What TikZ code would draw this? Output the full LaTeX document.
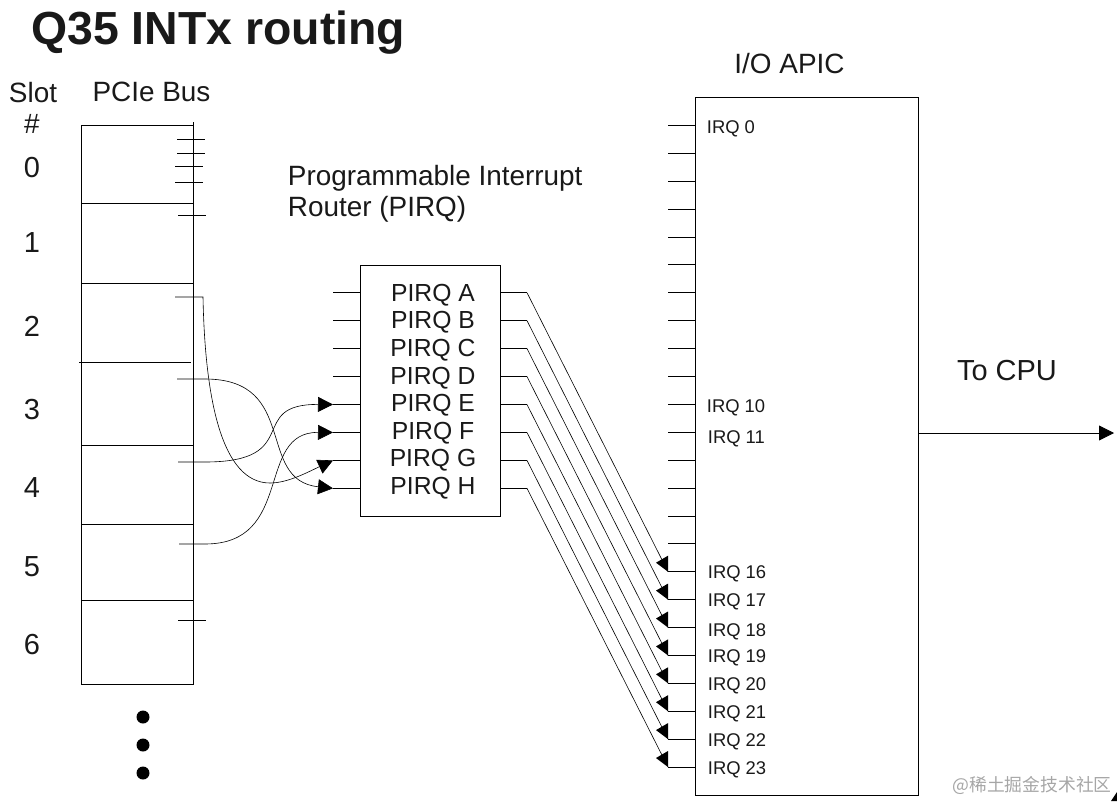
\documentclass[tikz,border=0pt]{standalone}
\usepackage{fontspec}
\setmainfont{Liberation Sans}
\newfontfamily\cjkfont{Noto Sans CJK SC}
\usetikzlibrary{arrows.meta}
\tikzset{
    > = {Triangle[length=15pt, width=15pt]},
    every path/.style = {line width=0.8pt},
    wirethin/.style = {line width=0.6pt},
    bigtext/.style = {font=\fontsize{27.9}{31}\selectfont, text=black!90},
    numtext/.style = {font=\fontsize{29}{31}\selectfont, text=black!90},
    pirqtext/.style = {font=\fontsize{24.7}{28}\selectfont, text=black!90},
    irqtext/.style = {font=\fontsize{18.4}{22}\selectfont, text=black!90, anchor=west, inner sep=0pt},
    slotbox/.style = {draw, minimum width=111.5pt, minimum height=559pt, inner sep=0pt},
    bigbox/.style = {draw, inner sep=0pt},
    dotmark/.style = {circle, fill=black, minimum size=13pt, inner sep=0pt}
}

\begin{document}
\begin{tikzpicture}[x=1pt, y=-1pt]
    \useasboundingbox (0, 0) rectangle (1117, 801);

    \node[font=\fontsize{46.4}{50}\selectfont\bfseries, text=black!90, anchor=west, inner sep=0pt] (title) at (31, 33) {Q35 INTx routing};
    \node[bigtext] (slot) at (33, 93) {Slot};
    \node[bigtext] (hash) at (32, 124) {\#};
    \node[bigtext] (pcie) at (151.5, 92) {PCIe Bus};
    \node[bigtext] (apic) at (789.5, 64) {I/O APIC};
    \node[bigtext, align=left, anchor=west, inner sep=0pt] (router) at (287.5, 193.5) {Programmable Interrupt\\Router (PIRQ)};
    \node[numtext] (tocpu) at (1007, 371) {To CPU};

    \node[numtext] (n0) at (32, 168) {0};
    \node[numtext] (n1) at (32, 243) {1};
    \node[numtext] (n2) at (32, 326.5) {2};
    \node[numtext] (n3) at (32, 410) {3};
    \node[numtext] (n4) at (32, 488) {4};
    \node[numtext] (n5) at (32, 567) {5};
    \node[numtext] (n6) at (32, 645) {6};

    % PCIe slots
    \node[slotbox] (bus) at (137.25, 404.5) {};
    \draw (bus.north east) -- ++(0, -3);
    \foreach \name/\xa/\ya/\xb in {a/81.5/203/193, b/81.5/283/193, c/79/362/191, d/81.5/445/193, e/81.5/524/193, f/81.5/600/193} {
        \coordinate (sep\name l) at (\xa, \ya);
        \coordinate (sep\name r) at (\xb, \ya);
        \draw (sep\name l) -- (sep\name r);
    }
    \foreach \name/\xa/\ya in {a/177/139, b/177/153, c/175/166, d/175/182, e/178/215, f/178/620} {
        \coordinate (tick\name l) at (\xa, \ya);
        \coordinate (tick\name r) at (\xa + 28, \ya);
        \draw (tick\name l) -- (tick\name r);
    }

    \node[dotmark] (dot1) at (143, 717) {};
    \node[dotmark] (dot2) at (143, 745) {};
    \node[dotmark] (dot3) at (143, 773) {};

    % PIRQ router
    \node[bigbox, minimum width=140pt, minimum height=251pt] (pirq) at (430, 390.5) {};
    \foreach \n/\t [count=\i from 0] in {A/A, B/B, C/C, D/D, E/E, F/F, G/G, H/H} {
        \coordinate (in\n) at (333, 292.7 + 27.95*\i);
        \coordinate (out\n) at (527, 292.7 + 27.95*\i);
        \node[pirqtext] (label\n) at (433, 295 + 27.6*\i) {PIRQ \t};
        \draw (out\n -| pirq.east) -- (out\n);
    }
    \draw (inA) -- (inA -| pirq.west);
    \draw (inB) -- (inB -| pirq.west);
    \draw (inC) -- (inC -| pirq.west);
    \draw (inD) -- (inD -| pirq.west);
    \draw (inE) -- (inE -| pirq.west);
    \draw (inF) -- (inF -| pirq.west);
    \draw (inG) -- (inG -| pirq.west);
    \draw (inH) -- (inH -| pirq.west);

    % slot wiring
    \coordinate (wireC) at (175, 297);
    \coordinate (wireD) at (177, 379);
    \coordinate (wireE) at (178, 462);
    \coordinate (wireF) at (179, 544);
    \draw[->, wirethin] (wireC) -- (203, 297) .. controls (205, 400) and (222, 483) .. (270, 483) .. controls (288, 483) and (308, 472) .. (inG);
    \draw[->, wirethin] (wireD) -- (205, 379) .. controls (300, 379) and (255, 480) .. (inH);
    \draw[->, wirethin] (wireE) -- (205, 462) .. controls (305, 462) and (245, 404) .. (inE);
    \draw[->, wirethin] (wireF) -- (205, 544) .. controls (295, 544) and (255, 432) .. (inF);

    % I/O APIC
    \node[bigbox, minimum width=223pt, minimum height=698pt] (ioapic) at (807.3, 446) {};
    \foreach \i in {0, ..., 23} {
        \coordinate (irq\i) at (668, 125.3 + 27.9*\i);
        \draw (irq\i) -- (irq\i -| ioapic.west);
    }
    \node[irqtext] (irqlabel0) at (706.5, 129) {IRQ 0};
    \node[irqtext] (irqlabel10) at (706.5, 407.5) {IRQ 10};
    \node[irqtext] (irqlabel11) at (707.5, 438.5) {IRQ 11};
    \node[irqtext] (irqlabel16) at (707.5, 574) {IRQ 16};
    \node[irqtext] (irqlabel17) at (707.5, 602) {IRQ 17};
    \node[irqtext] (irqlabel18) at (707.5, 632) {IRQ 18};
    \node[irqtext] (irqlabel19) at (707.5, 658) {IRQ 19};
    \node[irqtext] (irqlabel20) at (707.5, 686) {IRQ 20};
    \node[irqtext] (irqlabel21) at (707.5, 714) {IRQ 21};
    \node[irqtext] (irqlabel22) at (707.5, 742) {IRQ 22};
    \node[irqtext] (irqlabel23) at (707.5, 770) {IRQ 23};

    % router to APIC
    \foreach \n/\i in {A/16, B/17, C/18, D/19, E/20, F/21, G/22, H/23} {
        \draw[wirethin] (out\n) -- (irq\i);
        \fill (irq\i) ++(0, -16) -- ++(-12, 7) -- ++(12, 9) -- cycle;
    }

    \coordinate (cpu) at (1114, 433);
    \draw[->] (ioapic.east |- cpu) -- (cpu);

    \node[font=\cjkfont\fontsize{17.8}{20}\selectfont, text=black!35, anchor=east, inner sep=0pt] (mark) at (1112, 785) {@稀土掘金技术社区};
    \fill (1117, 792) -- (1117, 801) -- (1111, 801) -- cycle;
\end{tikzpicture}
\end{document}
